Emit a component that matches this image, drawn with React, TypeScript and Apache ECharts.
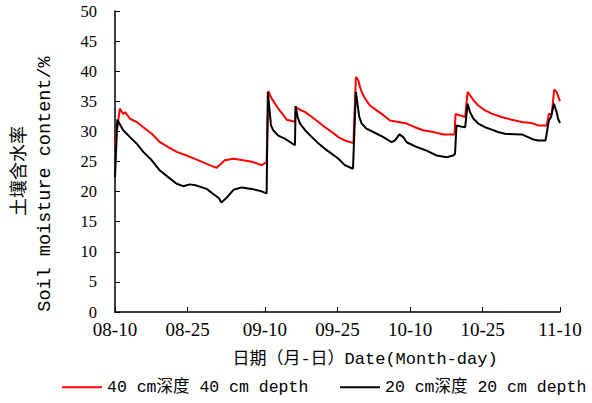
import React, { useEffect, useRef } from "react";
import * as echarts from "echarts";

const tickDays = [0, 15, 31, 46, 61, 76, 92];
const tickLabels = ["08-10", "08-25", "09-10", "09-25", "10-10", "10-25", "11-10"];

const depth40Name = "40 cm深度 40 cm depth";
const depth20Name = "20 cm深度 20 cm depth";

const depth40Days = [
  0, 1.0, 1.7, 2.1, 3.1, 4.5, 5.85, 7.6, 9.3, 11.0, 12.75, 14.8, 16.9, 18.95, 21.0, 22.7, 24.5, 26.5, 28.6, 30.3, 31.35,
  31.7, 32.4, 33.1, 33.75, 34.8, 35.5, 37.2,
  37.35, 38.25, 39.3, 40.7, 42.0, 43.4, 44.8, 46.2, 47.5, 49.3,
  49.8, 50.3, 50.65, 51.0, 51.7, 52.7, 54.1, 55.5, 56.85, 58.6, 60.3, 62.0, 63.7, 65.8, 67.9, 70.2,
  70.4, 72.4,
  72.9, 73.4, 74.1, 75.1, 76.5, 77.9, 79.9, 82.0, 84.1, 86.1, 87.5, 89.25,
  89.7, 90.3, 90.8, 91.3, 92,
];
const depth40Values = [
  27.7, 33.8, 32.9, 33.2, 32.1, 31.55, 30.7, 29.6, 28.2, 27.4, 26.6, 26.0, 25.3, 24.6, 23.95, 25.2, 25.45, 25.2, 24.9, 24.4, 24.9,
  36.7, 35.45, 34.6, 33.8, 32.7, 31.95, 31.6,
  34.0, 33.6, 33.2, 32.4, 31.6, 30.7, 29.9, 29.05, 28.5, 28.05,
  39.05, 38.5, 37.4, 36.55, 35.45, 34.3, 33.5, 32.7, 31.8, 31.55, 31.3, 30.7, 30.2, 29.9, 29.5, 29.5,
  32.9, 32.4,
  36.55, 36.0, 35.2, 34.3, 33.5, 32.95, 32.4, 31.95, 31.55, 31.4, 31.0, 31.0,
  32.9, 32.9, 36.95, 36.55, 35.0,
];

const depth20Days = [
  0, 0.48, 1.7, 3.1, 4.5, 5.85, 7.6, 9.3, 11.0, 12.75, 14.1, 15.5, 16.9, 18.95, 20.3, 21.5, 22.0, 23.1, 24.5, 26.2, 28.3, 30.3, 31.35,
  31.6, 32.25, 32.7, 33.75, 35.1, 37.2,
  37.35, 37.75, 38.25, 39.3, 40.7, 42.0, 43.4, 44.8, 46.2, 47.5, 49.2,
  49.8, 50.5, 51.0, 52.0, 53.4, 55.5, 57.2, 57.9, 58.8, 59.6, 60.3, 62.4, 64.4, 66.5, 68.6, 69.9, 70.3,
  70.6, 71.5, 72.4,
  72.9, 73.4, 74.1, 75.1, 76.5, 77.9, 79.2, 80.6, 84.1, 85.4, 86.5, 87.5, 89.0,
  89.7, 90.15, 90.75, 91.3, 91.6, 92,
];
const depth20Values = [
  22.4, 31.95, 30.2, 29.05, 27.95, 26.6, 25.2, 23.5, 22.4, 21.3, 20.9, 21.2, 21.0, 20.45, 19.6, 18.9, 18.2, 19.0, 20.3, 20.7, 20.45, 20.05, 19.7,
  36.55, 31.0, 30.2, 29.3, 28.8, 27.7,
  34.2, 32.4, 31.3, 30.2, 29.05, 28.05, 27.1, 26.3, 25.45, 24.4, 23.8,
  36.55, 32.4, 31.3, 30.45, 29.9, 29.05, 28.2, 28.5, 29.5, 29.05, 28.2, 27.4, 26.8, 26.0, 25.7, 26.0, 26.3,
  31.0, 30.8, 30.7,
  34.6, 33.2, 32.1, 31.3, 30.7, 30.3, 29.9, 29.6, 29.5, 29.05, 28.65, 28.5, 28.5,
  31.8, 32.4, 34.6, 33.2, 32.1, 31.4,
];

const monoFont = "'Liberation Mono', 'Noto Sans CJK SC', monospace";
const serifFont = "'Liberation Serif', serif";

export default function App() {
  const ref = useRef<HTMLDivElement>(null);

  useEffect(() => {
    if (!ref.current) return;
    const chart = echarts.init(ref.current, null, { renderer: "svg" });
    const zip = (xs: number[], ys: number[]) => xs.map((x, i) => [x, ys[i]]);
    const legendBase = {
      top: 379,
      icon: "rect",
      itemWidth: 40,
      itemHeight: 2,
      padding: 0,
      textStyle: { fontFamily: monoFont, fontSize: 16.5, color: "#000" },
    };
    chart.setOption({
      animation: false,
      backgroundColor: "#ffffff",
      grid: { left: 115, right: 32, top: 11, bottom: 91, containLabel: false },
      legend: [
        { ...legendBase, left: 62, data: [depth40Name] },
        { ...legendBase, left: 340, data: [depth20Name] },
      ],
      xAxis: {
        type: "value",
        min: 0,
        max: 92,
        splitLine: { show: false },
        axisLine: { show: true, onZero: false, lineStyle: { color: "#000", width: 1.5 } },
        axisTick: { show: true, inside: true, length: 5, customValues: tickDays, lineStyle: { color: "#000" } },
        axisLabel: {
          customValues: tickDays,
          formatter: (v: number) => {
            const i = tickDays.indexOf(v);
            return i >= 0 ? tickLabels[i] : "";
          },
          fontFamily: serifFont,
          fontSize: 19,
          color: "#000",
          margin: 8,
        },
      },
      yAxis: {
        type: "value",
        min: 0,
        max: 50,
        interval: 5,
        splitLine: { show: false },
        axisLine: { show: true, lineStyle: { color: "#000", width: 1.5 } },
        axisTick: { show: true, inside: true, length: 5, lineStyle: { color: "#000" } },
        axisLabel: { fontFamily: serifFont, fontSize: 16.5, color: "#000", margin: 18 },
      },
      graphic: [
        {
          type: "text",
          x: 365,
          y: 359,
          style: {
            text: "日期（月-日）Date(Month-day)",
            font: "17px " + monoFont,
            fill: "#000",
            align: "center",
            verticalAlign: "middle",
          },
        },
        {
          type: "text",
          x: 17,
          y: 171,
          rotation: Math.PI / 2,
          style: {
            text: "土壤含水率",
            font: "18px 'Noto Sans CJK SC', sans-serif",
            fill: "#000",
            align: "center",
            verticalAlign: "middle",
          },
        },
        {
          type: "text",
          x: 45,
          y: 184,
          rotation: Math.PI / 2,
          style: {
            text: "Soil moisture content/%",
            font: "18.5px " + monoFont,
            fill: "#000",
            align: "center",
            verticalAlign: "middle",
          },
        },
      ],
      series: [
        {
          name: depth40Name,
          type: "line",
          symbol: "none",
          data: zip(depth40Days, depth40Values),
          lineStyle: { color: "#ff0000", width: 2 },
          itemStyle: { color: "#ff0000" },
        },
        {
          name: depth20Name,
          type: "line",
          symbol: "none",
          data: zip(depth20Days, depth20Values),
          lineStyle: { color: "#000000", width: 2 },
          itemStyle: { color: "#000000" },
        },
      ],
    });
    return () => chart.dispose();
  }, []);

  return (
    <div
      ref={ref}
      style={{ position: "fixed", left: 0, top: 0, width: 592, height: 403, background: "#fff" }}
    />
  );
}
